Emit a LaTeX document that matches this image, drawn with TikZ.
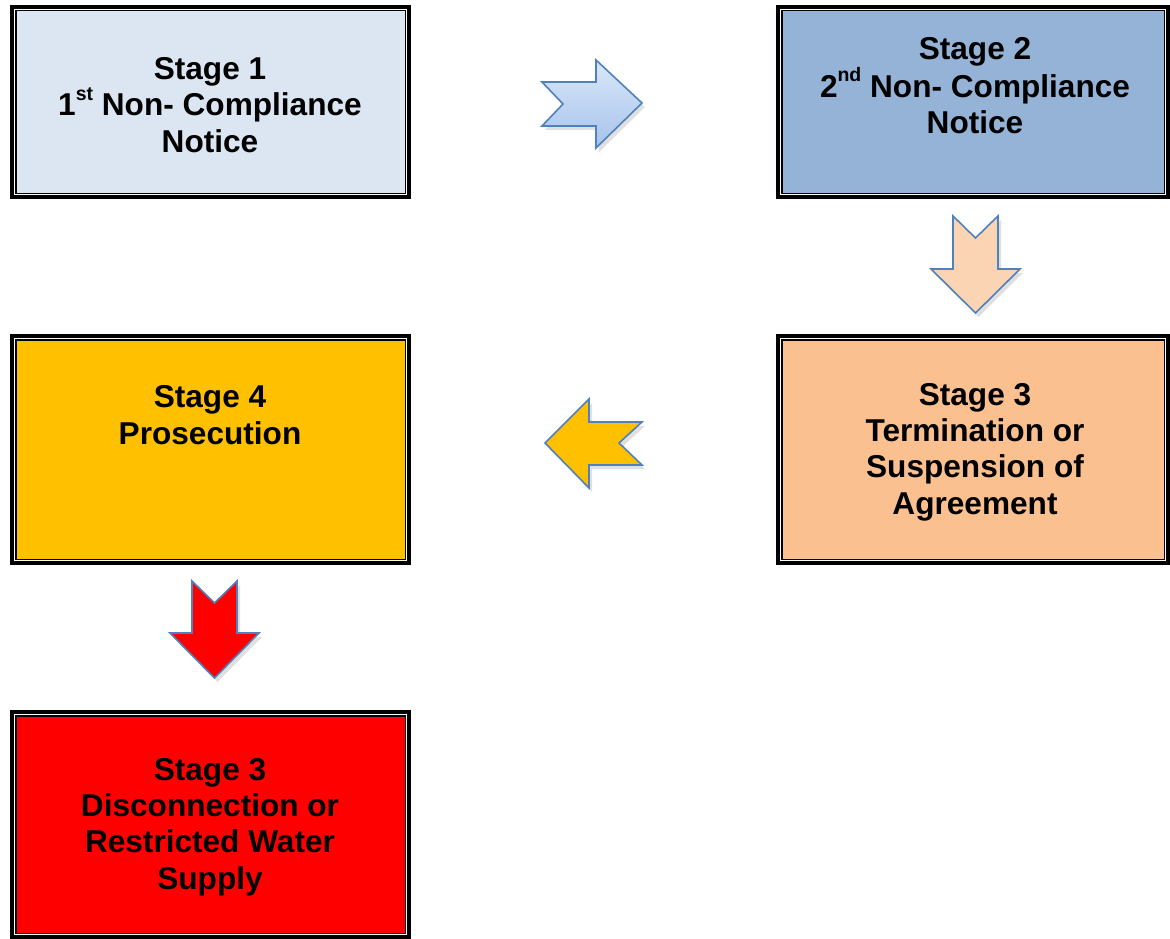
\documentclass[tikz,border=0pt]{standalone}
\usepackage{fontspec}
\setmainfont{Liberation Sans}
\definecolor{c1}{HTML}{DCE6F2}
\definecolor{c2}{HTML}{95B3D7}
\definecolor{c3}{HTML}{FAC090}
\definecolor{c4}{HTML}{FFC000}
\definecolor{c5}{HTML}{FF0000}
\definecolor{aline}{HTML}{4F81BD}
\definecolor{apeach}{HTML}{FBD4B4}
\definecolor{ablueT}{HTML}{DAE7F8}
\definecolor{ablueB}{HTML}{A6C3EC}
\newcommand{\supr}[1]{\raisebox{0.5em}{\fontsize{19.5pt}{19.5pt}\selectfont #1}}
\tikzset{
  stagebox/.style={rectangle, inner sep=0pt, outer sep=0pt,
    preaction={draw=black, line width=11.5pt},
    preaction={draw=white, line width=3.5pt},
    draw=black, line width=1.5pt},
  stagetext/.style={align=center, inner sep=0pt,
    font=\fontsize{31.6pt}{36.3pt}\selectfont\bfseries},
  blockarrow/.style={draw=aline, line width=1.6pt, line join=miter},
  ashadow/.style={fill=black, opacity=0.12, draw=none}
}
\begin{document}
\begin{tikzpicture}[x=1pt,y=-1pt]
\useasboundingbox (0,0) rectangle (1170,939);
% boxes
\node[stagebox, fill=c1, minimum width=389.5pt, minimum height=182.5pt] (b1) at (210.5,102) {};
\node[stagebox, fill=c2, minimum width=382.5pt, minimum height=182.5pt] (b2) at (973,102) {};
\node[stagebox, fill=c3, minimum width=382.5pt, minimum height=219.5pt] (b3) at (973,449.5) {};
\node[stagebox, fill=c4, minimum width=389.5pt, minimum height=219.5pt] (b4) at (210.5,449.5) {};
\node[stagebox, fill=c5, minimum width=389.5pt, minimum height=217.5pt] (b5) at (210.5,824.5) {};
% texts
\node[stagetext] (t1) at (210,105) {Stage 1\\1\supr{st} Non- Compliance\\Notice};
\node[stagetext] (t2) at (975,86) {Stage 2\\2\supr{nd} Non- Compliance\\Notice};
\node[stagetext] (t3) at (975,452) {Stage 3\\Termination or\\Suspension of\\Agreement};
\node[stagetext] (t4) at (210,415) {Stage 4\\Prosecution};
\node[stagetext] (t5) at (210,827) {Stage 3\\Disconnection or\\Restricted Water\\Supply};
% block arrows (soft shadows first)
\fill[ashadow] (545,86) -- (599,86) -- (599,64) -- (645,107) -- (599,152) -- (599,130) -- (545,130) -- (566,108) -- cycle;
\draw[blockarrow, top color=ablueT, bottom color=ablueB] (542,82) -- (596,82) -- (596,60) -- (642,103) -- (596,148) -- (596,126) -- (542,126) -- (563,104) -- cycle;
\fill[ashadow] (956,220) -- (978.5,242) -- (1001,220) -- (1001,273) -- (1023,273) -- (978.5,317) -- (934,273) -- (956,273) -- cycle;
\draw[blockarrow, fill=apeach] (953,216) -- (975.5,238) -- (998,216) -- (998,269) -- (1020,269) -- (975.5,313) -- (931,269) -- (953,269) -- cycle;
\fill[ashadow] (645,426) -- (592,426) -- (592,403) -- (548,447) -- (592,492) -- (592,469) -- (645,469) -- (622,447) -- cycle;
\draw[blockarrow, fill=c4] (642,422) -- (589,422) -- (589,399) -- (545,443) -- (589,488) -- (589,465) -- (642,465) -- (619,443) -- cycle;
\fill[ashadow] (195,585) -- (217.5,607) -- (240,585) -- (240,637) -- (262,637) -- (217.5,682) -- (173,637) -- (195,637) -- cycle;
\draw[blockarrow, fill=c5] (192,581) -- (214.5,603) -- (237,581) -- (237,633) -- (259,633) -- (214.5,678) -- (170,633) -- (192,633) -- cycle;
\end{tikzpicture}
\end{document}
